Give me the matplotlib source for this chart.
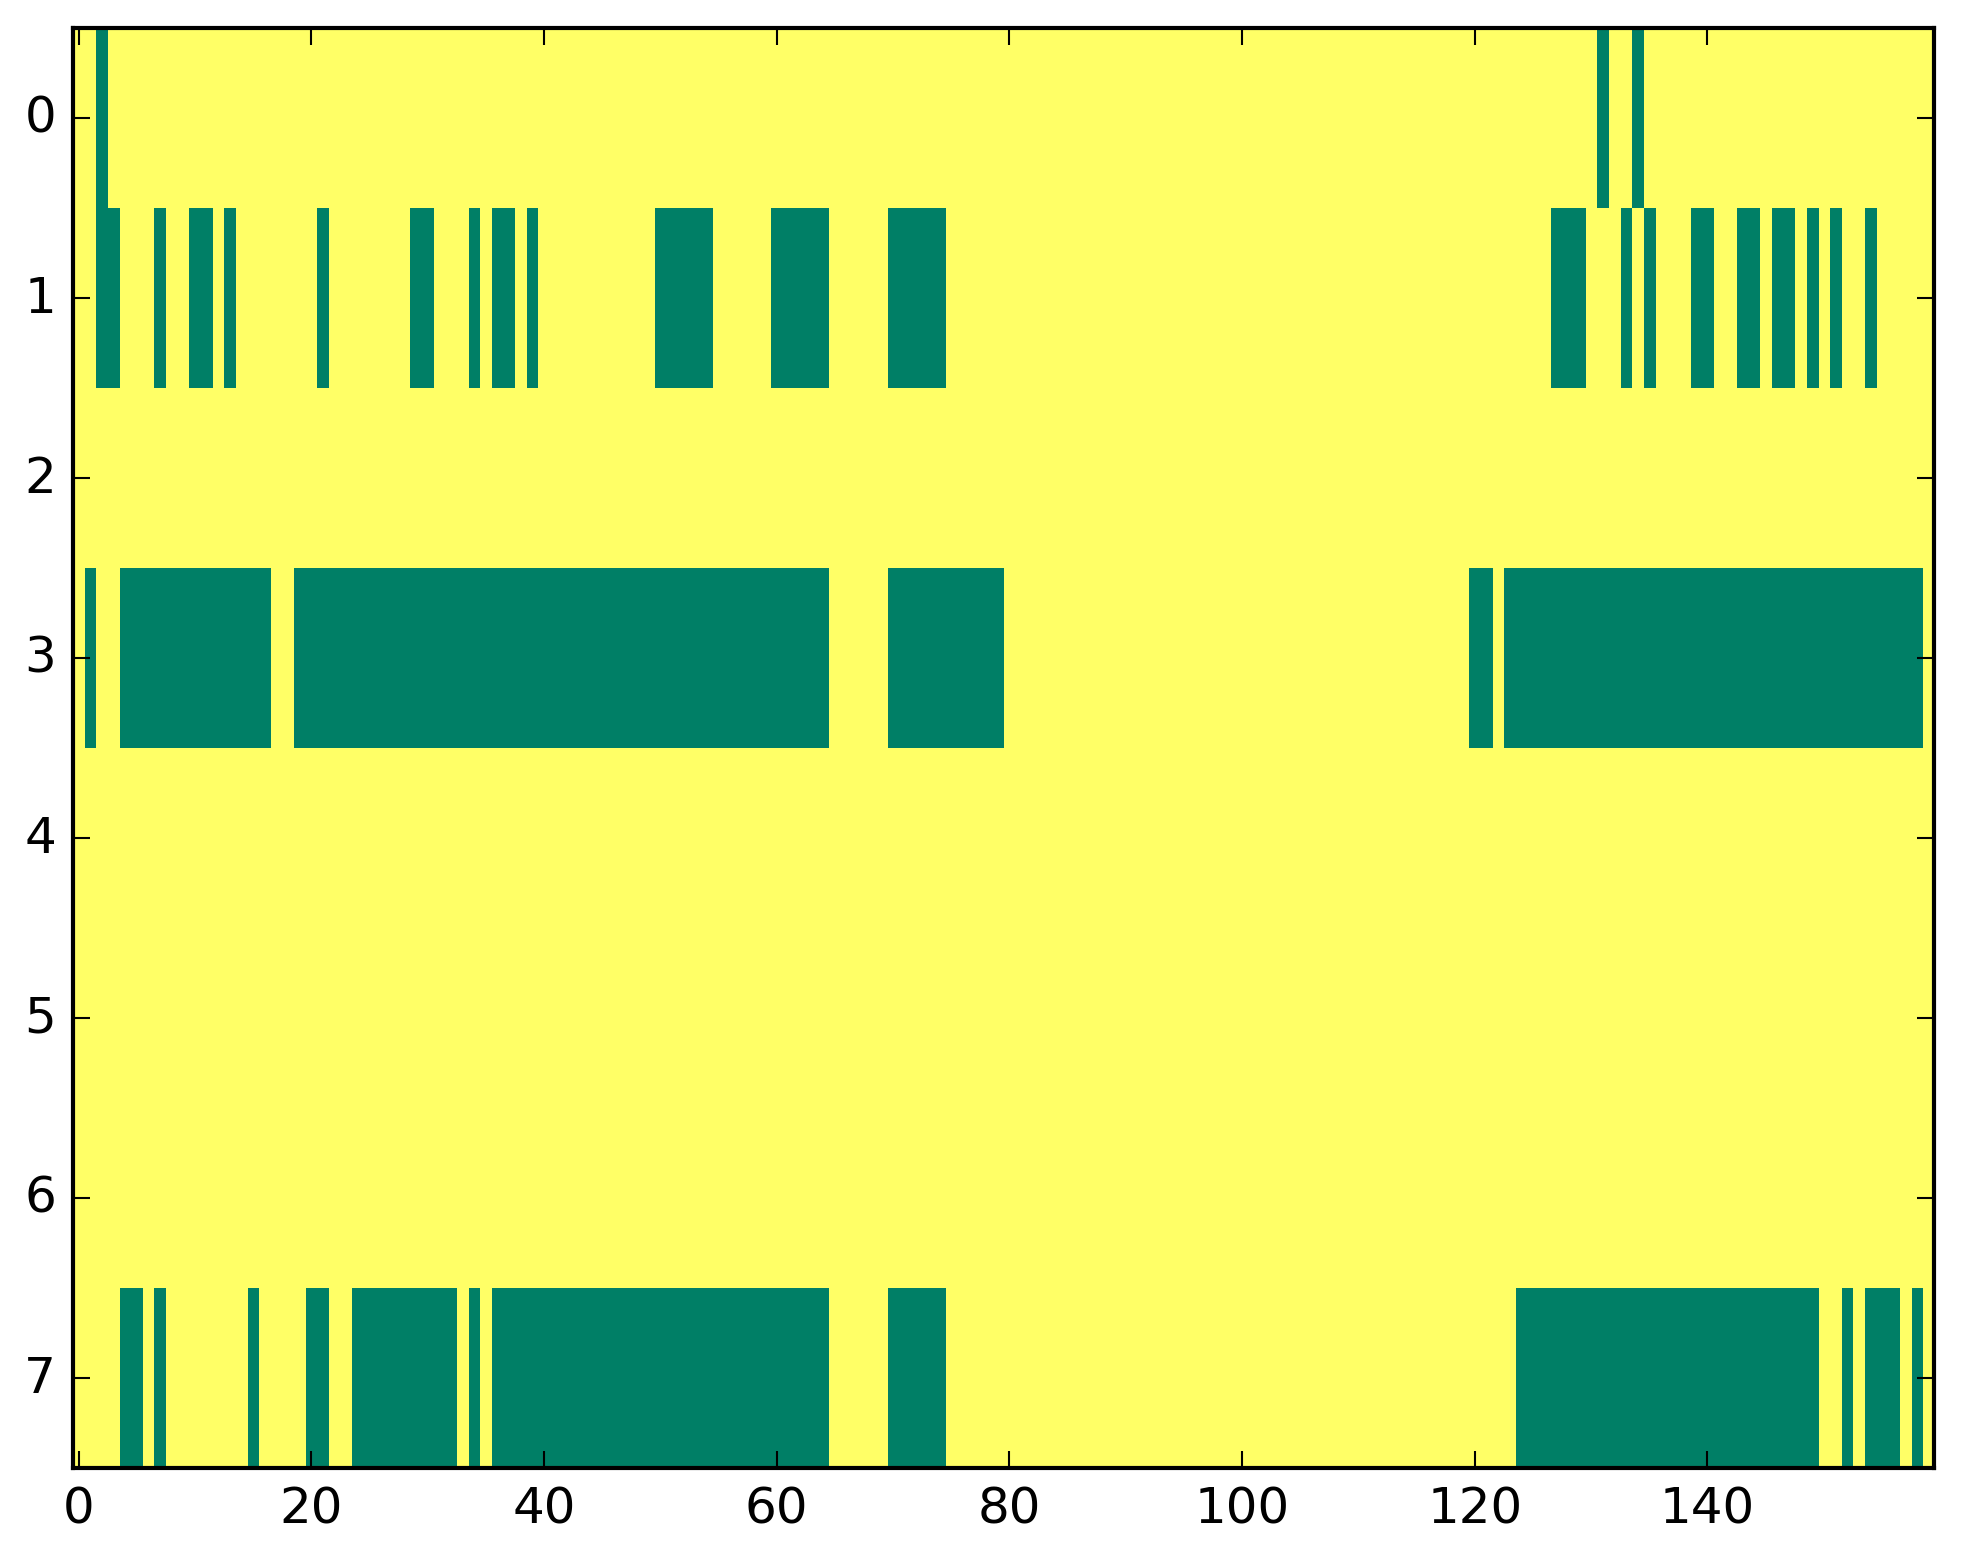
import numpy as np
import matplotlib
matplotlib.use("Agg")
import matplotlib.pyplot as plt

plt.style.use("classic")

n_rows = 8
n_cols = 160

# Green (value 0) cells per row, as inclusive column runs; everything else is 1 (yellow)
row0_runs = [(2, 2), (131, 131), (134, 134)]
row1_runs = [(2, 3), (7, 7), (10, 11), (13, 13), (21, 21), (29, 30), (34, 34),
             (36, 37), (39, 39), (50, 54), (60, 64), (70, 74), (127, 129),
             (133, 133), (135, 135), (139, 140), (143, 144), (146, 147),
             (149, 149), (151, 151), (154, 154)]
row2_runs = []
row3_runs = [(1, 1), (4, 16), (19, 64), (70, 79), (120, 121), (123, 158)]
row4_runs = []
row5_runs = []
row6_runs = []
row7_runs = [(4, 5), (7, 7), (15, 15), (20, 21), (24, 32), (34, 34), (36, 64),
             (70, 74), (124, 149), (152, 152), (154, 156), (158, 158)]

all_runs = [row0_runs, row1_runs, row2_runs, row3_runs,
            row4_runs, row5_runs, row6_runs, row7_runs]

data = np.ones((n_rows, n_cols))
for r, runs in enumerate(all_runs):
    for a, b in runs:
        data[r, a:b + 1] = 0

x_ticks = [0, 20, 40, 60, 80, 100, 120, 140]
y_ticks = [0, 1, 2, 3, 4, 5, 6, 7]

W, H, DPI = 1963, 1564, 300
fig = plt.figure(figsize=(W / DPI, H / DPI), dpi=DPI, facecolor="white")
ax = fig.add_axes([72.9 / W, (H - 1468.7) / H, 1861.3 / W, 1440 / H])
ax.imshow(data, cmap="summer", aspect="auto", interpolation="nearest",
          vmin=0, vmax=1)
ax.set_xticks(x_ticks)
ax.set_yticks(y_ticks)
ax.set_xlim(-0.5, n_cols - 0.5)
ax.set_ylim(n_rows - 0.5, -0.5)
ax.tick_params(labelsize=12)

fig.savefig("out.png", dpi=DPI, facecolor="white")
